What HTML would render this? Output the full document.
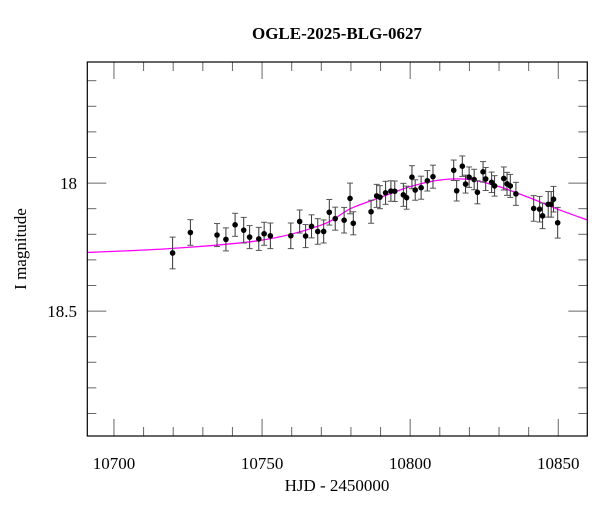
<!DOCTYPE html>
<html><head><meta charset="utf-8"><style>
body{margin:0;background:#fff;}
svg text{font-family:"Liberation Serif",serif;fill:#000;}
</style></head><body>
<svg id="chart" width="600" height="512" xmlns="http://www.w3.org/2000/svg">
<rect x="0" y="0" width="600" height="512" fill="#fff"/>
<text x="337" y="39" text-anchor="middle" font-size="17" font-weight="bold">OGLE-2025-BLG-0627</text>
<text x="337" y="491" text-anchor="middle" font-size="17">HJD - 2450000</text>
<text transform="translate(26,249) rotate(-90)" text-anchor="middle" font-size="17">I magnitude</text>
<g id="ticks"></g>
<g id="curve"></g>
<g id="points"></g>
<rect x="87.3" y="62" width="500" height="374" fill="none" stroke="#000" stroke-width="1.2"/>
</svg>
<script>
const days=[10719.8,10725.8,10734.8,10737.8,10740.9,10743.8,10745.8,10748.9,10750.7,10752.8,10759.7,10762.7,10764.7,10766.7,10768.8,10770.8,10772.7,10774.7,10777.7,10779.7,10780.8,10786.8,10788.7,10789.8,10791.7,10793.5,10794.8,10797.7,10798.8,10800.6,10801.7,10803.7,10805.8,10807.7,10814.7,10815.7,10817.6,10818.7,10819.9,10821.6,10822.7,10824.6,10825.5,10827.5,10828.5,10831.6,10832.7,10833.8,10835.7,10841.7,10843.7,10844.7,10846.6,10847.6,10848.4,10849.8];
const mags=[18.273,18.193,18.203,18.220,18.163,18.184,18.211,18.218,18.198,18.206,18.206,18.150,18.207,18.169,18.189,18.189,18.114,18.139,18.145,18.060,18.157,18.112,18.050,18.055,18.038,18.031,18.032,18.046,18.057,17.977,18.027,18.018,17.991,17.975,17.950,18.030,17.934,18.004,17.977,17.986,18.036,17.956,17.984,17.997,18.011,17.982,18.003,18.011,18.042,18.099,18.102,18.128,18.083,18.083,18.063,18.155];
const errs=[0.062,0.05,0.045,0.045,0.045,0.05,0.045,0.045,0.045,0.05,0.05,0.045,0.045,0.045,0.05,0.045,0.05,0.045,0.05,0.06,0.045,0.045,0.045,0.045,0.045,0.04,0.04,0.045,0.045,0.045,0.04,0.045,0.04,0.045,0.04,0.04,0.04,0.035,0.04,0.04,0.045,0.04,0.045,0.04,0.04,0.045,0.045,0.045,0.045,0.05,0.05,0.05,0.05,0.05,0.05,0.06];
const modelDays=[10691,10720,10750,10770,10780,10790,10800,10810,10820,10830,10840,10850,10860];
const modelMags=[18.271,18.255,18.223,18.164,18.099,18.056,18.014,17.988,17.986,18.014,18.056,18.103,18.145];
const xTicks=[10700,10750,10800,10850];
const yTickLabels=["18","18.5"];
const yTicks=[18,18.5];

const X0=87.3,X1=587.3,Y0=62,Y1=436;
const xMin=10691,xMax=10859.8,yMin=17.527,yMax=18.988;
const sx=d=>X0+(d-xMin)/(xMax-xMin)*(X1-X0);
const sy=m=>Y0+(m-yMin)/(yMax-yMin)*(Y1-Y0);
const NS="http://www.w3.org/2000/svg";
function mk(tag,attrs,parent){const e=document.createElementNS(NS,tag);for(const k in attrs)e.setAttribute(k,attrs[k]);parent.appendChild(e);return e;}
const tg=document.getElementById('ticks');
for(let d=10700;d<=10850;d+=10){
  const x=sx(d),maj=(d%50===0),L=maj?17:9;
  const t1=mk('line',{x1:x,y1:Y1,x2:x,y2:Y1-L,stroke:'#666','stroke-width':1},tg);
  
  
  const t2=mk('line',{x1:x,y1:Y0,x2:x,y2:Y0+L,stroke:'#666','stroke-width':1},tg);
  
  
}
xTicks.forEach(d=>{
  const t=mk('text',{x:sx(d),y:469,'text-anchor':'middle','font-size':'17'},tg);
  t.textContent=d;
  
  
});
for(let i=6;i<=19;i++){
  const m=i/10,y=sy(m);if(y<Y0+1||y>Y1-1)continue;
  const maj=(i%5===0),L=maj?19:9;
  const a=mk('line',{x1:X0,y1:y,x2:X0+L,y2:y,stroke:'#666','stroke-width':1},tg);
  
  
  const b=mk('line',{x1:X1,y1:y,x2:X1-L,y2:y,stroke:'#666','stroke-width':1},tg);
  
  
}
for(let i=17.6;i<=18.95;i+=0.1){
  const y=sy(i);
  const a=mk('line',{x1:X0,y1:y,x2:X0+(Math.abs((i*2)-Math.round(i*2))<0.01?19:9),y2:y,stroke:'#666','stroke-width':1},tg);
  
  
  const b=mk('line',{x1:X1,y1:y,x2:X1-(Math.abs((i*2)-Math.round(i*2))<0.01?19:9),y2:y,stroke:'#666','stroke-width':1},tg);
  
  
}
yTicks.forEach((m,i)=>{
  const t=mk('text',{x:77,y:sy(m)+6,'text-anchor':'end','font-size':'17'},tg);
  t.textContent=yTickLabels[i];
  
  
});
// model curve (Catmull-Rom)
const P=modelDays.map((d,i)=>[sx(d),sy(modelMags[i])]);
let dstr='M'+P[0][0]+','+P[0][1];
for(let i=0;i<P.length-1;i++){
  const p0=P[Math.max(0,i-1)],p1=P[i],p2=P[i+1],p3=P[Math.min(P.length-1,i+2)];
  const c1=[p1[0]+(p2[0]-p0[0])/6,p1[1]+(p2[1]-p0[1])/6];
  const c2=[p2[0]-(p3[0]-p1[0])/6,p2[1]-(p3[1]-p1[1])/6];
  dstr+=' C'+c1+' '+c2+' '+p2;
}
const cg=document.getElementById('curve');
const path=mk('path',{d:dstr,fill:'none',stroke:'#ff00ff','stroke-width':1.3},cg);


const pg=document.getElementById('points');
days.forEach((d,i)=>{
  const x=sx(d),y=sy(mags[i]),e=(sy(mags[i]+errs[i])-y);
  const g=mk('g',{},pg);
  
  
  mk('line',{x1:x,y1:y-e,x2:x,y2:y+e,stroke:'#333','stroke-width':1},g);
  mk('line',{x1:x-3,y1:y-e,x2:x+3,y2:y-e,stroke:'#555','stroke-width':1},g);
  mk('line',{x1:x-3,y1:y+e,x2:x+3,y2:y+e,stroke:'#555','stroke-width':1},g);
  mk('circle',{cx:x,cy:y,r:2.8,fill:'#000'},g);
});
</script>
</body></html>
